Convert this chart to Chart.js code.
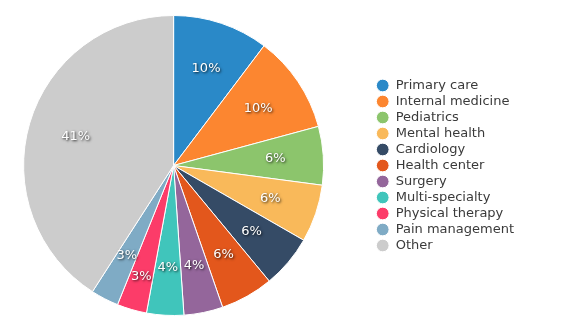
<!DOCTYPE html>
<html>
<head>
<meta charset="utf-8">
<script src="https://cdn.jsdelivr.net/npm/chart.js@4/dist/chart.umd.min.js"></script>
<style>
  html, body { margin: 0; padding: 0; background: #fff; }
  #wrap { width: 580px; height: 334px; }
</style>
</head>
<body>
<div id="wrap"><canvas id="pieChart" width="580" height="334"></canvas></div>
<script>
// Categories and shares (%)
const categories = ["Primary care", "Internal medicine", "Pediatrics", "Mental health", "Cardiology",
  "Health center", "Surgery", "Multi-specialty", "Physical therapy", "Pain management", "Other"];
const shares = [10.3, 10.5, 6.3, 6.2, 5.7, 5.7, 4.2, 4.0, 3.2, 3.0, 40.9];
const sliceColors = ["#2a89c8", "#fc8630", "#8cc56c", "#f9b95a", "#354b66", "#e3571c",
  "#94669b", "#40c5bb", "#fc3c69", "#7fabc5", "#cccccc"];

// The pie sits left of centre in its area: widen the chart area leftwards
const shiftPie = {
  id: "shiftPie",
  afterLayout(chart) {
    const a = chart.chartArea;
    a.left -= 26;
    a.width = a.right - a.left;
  }
};

// Percent labels inside the slices, pushed outwards when they would overlap
const percentLabels = {
  id: "percentLabels",
  afterDatasetsDraw(chart) {
    const ctx = chart.ctx;
    const meta = chart.getDatasetMeta(0);
    const total = shares.reduce((a, b) => a + b, 0);
    ctx.save();
    ctx.font = "13px 'DejaVu Sans'";
    ctx.textAlign = "center";
    ctx.textBaseline = "middle";
    const placed = [];
    for (let i = meta.data.length - 1; i >= 0; i--) {
      const p = meta.data[i].getProps(["x", "y", "startAngle", "endAngle", "outerRadius"], true);
      const mid = (p.startAngle + p.endAngle) / 2;
      const txt = Math.round(shares[i] / total * 100) + "%";
      const w = ctx.measureText(txt).width, h = 20;
      let r = p.outerRadius * 0.68, x, y;
      for (let k = 0; k < 30; k++) {
        x = p.x + Math.cos(mid) * r;
        y = p.y + Math.sin(mid) * r;
        const hit = placed.some(b => Math.abs(b.x - x) < (b.w + w) / 2 && Math.abs(b.y - y) < h);
        if (!hit) break;
        r += 2;
      }
      placed.push({ x, y, w, txt });
    }
    ctx.fillStyle = "#fff";
    ctx.shadowColor = "rgba(0,0,0,0.85)";
    ctx.shadowBlur = 2.5;
    ctx.shadowOffsetX = 1;
    ctx.shadowOffsetY = 1;
    placed.forEach(b => ctx.fillText(b.txt, b.x, b.y));
    ctx.restore();
  }
};

const ctx = document.getElementById("pieChart").getContext("2d");
const pieChart = new Chart(ctx, {
  type: "pie",
  data: {
    labels: categories,
    datasets: [{
      data: shares,
      backgroundColor: sliceColors,
      borderColor: "#fff",
      borderWidth: 1
    }]
  },
  options: {
    responsive: false,
    animation: false,
    layout: {
      padding: { left: 0, right: 56, top: 15, bottom: 18 }
    },
    plugins: {
      tooltip: { enabled: false },
      legend: {
        position: "right",
        labels: {
          usePointStyle: true,
          pointStyle: "circle",
          boxWidth: 13,
          boxHeight: 9,
          padding: 3,
          color: "#3a3a3a",
          font: { family: "'DejaVu Sans'", size: 13 }
        }
      }
    }
  },
  plugins: [shiftPie, percentLabels]
});
</script>
</body>
</html>
